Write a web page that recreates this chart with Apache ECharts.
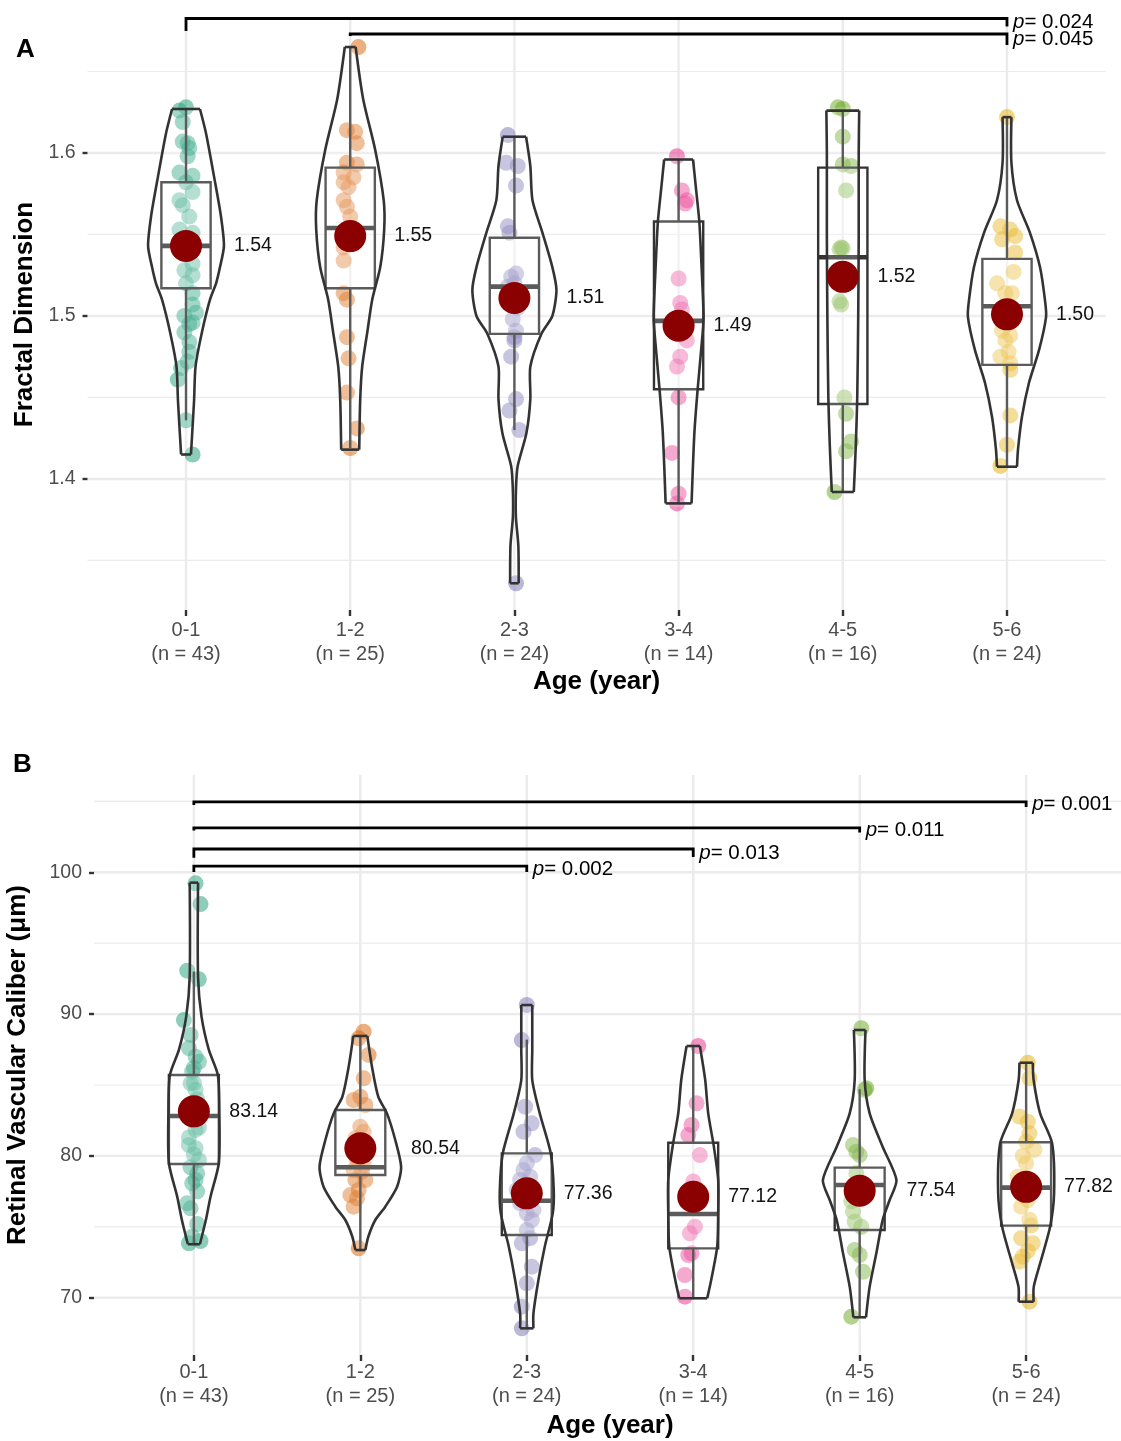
<!DOCTYPE html>
<html>
<head>
<meta charset="utf-8">
<title>Fractal Dimension / Retinal Vascular Caliber by age</title>
<script src="https://cdn.jsdelivr.net/npm/echarts@6/dist/echarts.min.js"></script>
<style>
	html, body { margin: 0; padding: 0; background: #ffffff; }
	#chart { width: 1121px; height: 1441px; }
</style>
</head>
<body>
<div id="chart"></div>
<script>
// 年龄分组与样本量
const categories = ["0-1", "1-2", "2-3", "3-4", "4-5", "5-6"];
const groupCounts = [43, 25, 24, 14, 16, 24];

// 坐标轴刻度
const tickValuesA = [1.4, 1.5, 1.6];
const minorValuesA = [1.35, 1.45, 1.55, 1.65];
const tickValuesB = [70, 80, 90, 100];
const minorValuesB = [75, 85, 95, 105];

// 均值（图中红点与标签）
const meansA = [1.543, 1.549, 1.511, 1.494, 1.524, 1.501];
const meansB = [83.14, 80.54, 77.36, 77.12, 77.54, 77.82];

// 箱线图：[下须, Q1, 中位数, Q3, 上须]
const boxA = [
	[1.436, 1.517, 1.543, 1.582, 1.627],
	[1.419, 1.517, 1.554, 1.591, 1.665],
	[1.430, 1.489, 1.518, 1.548, 1.610],
	[1.385, 1.455, 1.497, 1.558, 1.596],
	[1.392, 1.446, 1.536, 1.591, 1.626],
	[1.408, 1.470, 1.506, 1.535, 1.622],
];
const boxB = [
	[73.8, 79.43, 82.81, 85.71, 93.0],
	[73.4, 78.65, 79.2, 83.24, 88.5],
	[67.8, 74.42, 76.84, 80.18, 88.2],
	[70.0, 73.48, 75.9, 80.93, 87.75],
	[68.6, 74.77, 77.95, 79.17, 84.7],
	[69.7, 75.08, 77.76, 80.96, 86.57],
];

// 小提琴密度轮廓：[数值, 半宽(分组单位)]
const violinA = [
	[[1.415, 0.030], [1.448, 0.049], [1.469, 0.058], [1.490, 0.097], [1.510, 0.146], [1.520, 0.183], [1.530, 0.207], [1.543, 0.231], [1.561, 0.213], [1.582, 0.177], [1.612, 0.122], [1.627, 0.085]],
	[[1.418, 0.055], [1.449, 0.061], [1.469, 0.073], [1.490, 0.104], [1.510, 0.134], [1.530, 0.183], [1.553, 0.207], [1.571, 0.204], [1.602, 0.152], [1.633, 0.079], [1.665, 0.033]],
	[[1.336, 0.026], [1.359, 0.024], [1.377, 0.009], [1.395, 0.010], [1.408, 0.020], [1.428, 0.073], [1.449, 0.097], [1.469, 0.097], [1.489, 0.164], [1.500, 0.231], [1.516, 0.256], [1.530, 0.231], [1.551, 0.171], [1.571, 0.110], [1.592, 0.097], [1.610, 0.071]],
	[[1.385, 0.079], [1.428, 0.096], [1.455, 0.116], [1.489, 0.146], [1.500, 0.152], [1.530, 0.140], [1.558, 0.126], [1.579, 0.105], [1.596, 0.088]],
	[[1.392, 0.067], [1.420, 0.079], [1.450, 0.088], [1.500, 0.094], [1.550, 0.097], [1.600, 0.097], [1.626, 0.100]],
	[[1.4075, 0.061], [1.418, 0.067], [1.438, 0.091], [1.459, 0.134], [1.479, 0.195], [1.4995, 0.238], [1.510, 0.231], [1.530, 0.201], [1.551, 0.140], [1.571, 0.061], [1.594, 0.027], [1.622, 0.027]],
];
const violinB = [
	[[73.77, 0.036], [75.48, 0.072], [77.12, 0.100], [79.5, 0.150], [83.0, 0.153], [85.7, 0.144], [87.47, 0.090], [89.82, 0.046], [92.64, 0.025], [99.27, 0.025]],
	[[73.36, 0.030], [74.3, 0.048], [75.48, 0.090], [76.42, 0.150], [77.83, 0.221], [79.24, 0.245], [81.12, 0.210], [83.0, 0.160], [84.17, 0.108], [86.29, 0.070], [88.46, 0.042]],
	[[67.84, 0.040], [68.9, 0.040], [71.25, 0.070], [73.6, 0.108], [75.95, 0.156], [77.6, 0.162], [80.18, 0.144], [83.0, 0.078], [85.35, 0.033], [87.47, 0.033], [90.64, 0.033]],
	[[69.96, 0.084], [71.25, 0.108], [73.6, 0.144], [75.95, 0.150], [78.3, 0.150], [80.65, 0.124], [83.0, 0.090], [85.35, 0.072], [87.75, 0.040]],
	[[68.62, 0.038], [70.78, 0.060], [73.13, 0.100], [75.48, 0.138], [76.89, 0.180], [78.3, 0.221], [80.65, 0.138], [83.0, 0.060], [85.35, 0.030], [88.88, 0.035]],
	[[69.72, 0.045], [70.78, 0.046], [72.42, 0.084], [75.0, 0.144], [77.36, 0.168], [80.89, 0.156], [83.0, 0.084], [85.35, 0.045], [86.57, 0.040]],
];

// 抖动散点：[横向抖动(分组单位), 数值]
const pointsA = [
	[[0.00, 1.628], [-0.04, 1.626], [-0.02, 1.619], [-0.02, 1.607], [0.01, 1.606], [0.02, 1.603], [0.01, 1.598], [-0.04, 1.588], [0.04, 1.586], [0.00, 1.582], [0.04, 1.576], [-0.04, 1.571], [-0.02, 1.568], [0.02, 1.561], [-0.04, 1.553], [0.04, 1.551], [0.01, 1.546], [-0.02, 1.539], [0.04, 1.532], [-0.01, 1.528], [0.04, 1.525], [0.00, 1.520], [0.04, 1.514], [0.04, 1.507], [0.06, 1.502], [-0.01, 1.500], [0.02, 1.495], [0.04, 1.496], [-0.01, 1.490], [0.02, 1.484], [0.02, 1.478], [0.01, 1.472], [-0.03, 1.468], [-0.05, 1.461], [0.00, 1.436], [0.04, 1.415]],
	[[0.05, 1.665], [-0.02, 1.614], [0.03, 1.613], [0.04, 1.606], [-0.02, 1.594], [0.04, 1.593], [-0.04, 1.588], [0.02, 1.585], [-0.04, 1.582], [-0.01, 1.579], [-0.04, 1.571], [-0.02, 1.567], [0.00, 1.561], [0.00, 1.553], [-0.04, 1.542], [-0.04, 1.534], [-0.04, 1.514], [-0.02, 1.510], [-0.02, 1.487], [-0.01, 1.474], [-0.02, 1.453], [0.04, 1.431], [0.00, 1.419]],
	[[-0.04, 1.611], [-0.05, 1.594], [0.02, 1.592], [0.01, 1.580], [-0.04, 1.555], [-0.03, 1.551], [0.01, 1.526], [-0.02, 1.524], [0.00, 1.520], [-0.04, 1.518], [0.02, 1.505], [-0.01, 1.498], [0.01, 1.491], [0.00, 1.487], [0.00, 1.485], [-0.02, 1.475], [0.01, 1.449], [-0.03, 1.442], [0.03, 1.430], [0.01, 1.336]],
	[[-0.01, 1.598], [0.02, 1.577], [0.05, 1.571], [0.04, 1.569], [0.00, 1.523], [0.01, 1.508], [0.02, 1.504], [0.05, 1.485], [0.01, 1.475], [-0.01, 1.469], [0.00, 1.450], [-0.04, 1.416], [0.00, 1.391], [-0.01, 1.385]],
	[[-0.03, 1.628], [0.00, 1.627], [0.00, 1.610], [0.00, 1.593], [0.05, 1.592], [0.02, 1.577], [-0.02, 1.541], [-0.01, 1.542], [0.00, 1.5415], [-0.02, 1.509], [-0.01, 1.507], [0.01, 1.450], [0.02, 1.440], [0.05, 1.423], [0.02, 1.417], [-0.05, 1.392]],
	[[0.00, 1.622], [-0.04, 1.555], [0.02, 1.553], [0.05, 1.549], [-0.03, 1.547], [0.05, 1.539], [0.04, 1.527], [-0.06, 1.520], [-0.01, 1.514], [0.03, 1.514], [-0.02, 1.500], [-0.03, 1.491], [0.02, 1.488], [-0.01, 1.485], [0.01, 1.478], [-0.04, 1.475], [0.02, 1.471], [0.02, 1.467], [0.02, 1.439], [0.00, 1.421], [-0.04, 1.408]],
];
const pointsB = [
	[[0.01, 99.22], [0.04, 97.76], [-0.04, 93.06], [0.03, 92.45], [-0.06, 89.58], [-0.02, 88.53], [-0.03, 87.6], [0.01, 87.0], [0.03, 86.64], [0.00, 86.2], [-0.01, 85.94], [0.00, 85.14], [-0.02, 85.12], [0.01, 84.65], [0.02, 84.0], [0.01, 83.71], [-0.02, 83.3], [-0.01, 82.53], [0.03, 82.0], [0.01, 81.83], [-0.03, 81.3], [-0.03, 80.77], [0.01, 80.54], [0.00, 80.1], [0.03, 79.71], [-0.02, 79.2], [0.02, 78.77], [0.01, 78.30], [-0.01, 78.07], [0.02, 77.5], [-0.04, 76.66], [-0.02, 76.30], [0.02, 75.2], [-0.01, 74.30], [0.04, 74.0], [-0.03, 73.84]],
	[[0.02, 88.76], [-0.01, 88.29], [0.05, 87.12], [0.02, 85.47], [0.00, 84.17], [-0.04, 83.94], [0.03, 83.59], [0.00, 82.06], [0.02, 81.7], [-0.03, 81.24], [0.00, 80.8], [0.00, 80.30], [-0.02, 79.71], [0.02, 79.36], [-0.04, 79.00], [0.01, 78.89], [-0.03, 78.30], [0.03, 78.30], [-0.01, 77.6], [-0.06, 77.24], [-0.02, 77.01], [-0.04, 76.42], [-0.01, 73.48]],
	[[0.00, 90.64], [-0.03, 88.17], [-0.01, 83.47], [0.03, 82.30], [-0.02, 81.71], [0.05, 80.06], [0.00, 79.48], [-0.02, 79.0], [0.02, 78.53], [-0.04, 78.30], [-0.06, 77.60], [0.01, 77.0], [-0.04, 76.66], [0.04, 76.2], [0.00, 75.95], [0.03, 75.48], [0.00, 74.77], [0.02, 74.2], [-0.03, 73.84], [0.03, 72.19], [0.00, 71.02], [-0.03, 69.37], [-0.03, 67.84]],
	[[0.03, 87.75], [0.02, 83.71], [-0.01, 82.18], [-0.03, 81.47], [0.04, 80.06], [0.00, 78.2], [0.02, 77.5], [0.01, 76.50], [0.01, 75.01], [-0.02, 74.54], [-0.01, 73.13], [-0.03, 73.01], [-0.05, 71.60], [-0.05, 70.07]],
	[[0.01, 89.0], [0.03, 84.65], [0.04, 84.77], [-0.04, 80.77], [-0.02, 80.3], [0.00, 80.06], [-0.02, 78.77], [-0.01, 77.6], [-0.05, 76.80], [-0.04, 76.07], [-0.03, 75.36], [0.01, 75.0], [-0.03, 73.37], [0.00, 73.01], [0.02, 71.83], [-0.05, 68.66]],
	[[0.01, 86.57], [0.02, 85.47], [-0.04, 82.77], [0.01, 82.41], [0.02, 81.59], [0.00, 81.0], [0.05, 80.42], [-0.02, 80.0], [0.00, 79.48], [-0.05, 78.53], [0.03, 78.0], [-0.01, 77.2], [0.01, 76.89], [-0.03, 76.42], [0.02, 75.5], [0.03, 75.1], [-0.03, 74.2], [0.04, 73.84], [0.01, 73.3], [-0.02, 72.89], [-0.04, 72.54], [0.02, 69.72]],
];

// 显著性标注：[起始组, 结束组, 横线高度, 左端下沿, 右端下沿, p值]
const bracketsA = [
	[0, 5, 1.6825, 1.6748, 1.6776, "0.024"],
	[1, 5, 1.6730, 1.6718, 1.6663, "0.045"],
];
const bracketsB = [
	[0, 5, 104.96, 104.75, 104.6, "0.001"],
	[0, 4, 103.13, 102.95, 102.8, "0.011"],
	[0, 3, 101.64, 101.02, 101.08, "0.013"],
	[0, 2, 100.44, 100.02, 100.02, "0.002"],
];

// 样式常量
const groupColors = ["#1B9E77", "#D95F02", "#7570B3", "#E7298A", "#66A61E", "#E6AB02"];
const FONT = "'Liberation Sans', Arial, sans-serif";
const BOX_HALF = 0.15; // 箱体半宽（分组单位）
const INK = "#333333";

function lineShape(a, b) {
	return { x1: a[0], y1: a[1], x2: b[0], y2: b[1] };
}

// 背景网格线（主、次网格 + 分组竖线）
function renderGrid(major, minor) {
	return function (params, api) {
		const cs = params.coordSys;
		const children = [];
		const hLine = (v, w) => {
			const y = api.coord([0, v])[1];
			children.push({ type: "line", shape: { x1: cs.x, y1: y, x2: cs.x + cs.width, y2: y }, style: { stroke: "#EBEBEB", lineWidth: w, fill: null } });
		};
		minor.forEach((v) => hLine(v, 1.2));
		major.forEach((v) => hLine(v, 2.4));
		categories.forEach((c, i) => {
			const x = api.coord([i, major[0]])[0];
			children.push({ type: "line", shape: { x1: x, y1: cs.y, x2: x, y2: cs.y + cs.height }, style: { stroke: "#EBEBEB", lineWidth: 2.4, fill: null } });
		});
		return { type: "group", children: children };
	};
}

// 箱线图 + 小提琴
function renderBoxViolin(boxes, violins) {
	return function (params, api) {
		const i = params.dataIndex;
		const [lo, q1, med, q3, hi] = boxes[i];
		const pt = (dx, v) => api.coord([i + dx, v]);
		const ink = (w) => ({ stroke: INK, lineWidth: w, fill: null, lineJoin: "round" });
		const children = [];

		// 1. 须线
		children.push({ type: "line", shape: lineShape(pt(0, hi), pt(0, q3)), style: ink(2.4) });
		children.push({ type: "line", shape: lineShape(pt(0, q1), pt(0, lo)), style: ink(2.4) });

		// 2. 箱体
		const tl = pt(-BOX_HALF, q3);
		const br = pt(BOX_HALF, q1);
		children.push({
			type: "rect",
			shape: { x: tl[0], y: tl[1], width: br[0] - tl[0], height: br[1] - tl[1] },
			style: { stroke: INK, lineWidth: 2.4, fill: "rgba(255,255,255,0.2)" },
		});

		// 3. 中位数
		children.push({ type: "line", shape: lineShape(pt(-BOX_HALF, med), pt(BOX_HALF, med)), style: ink(4.6) });

		// 4. 小提琴轮廓
		const prof = violins[i];
		const right = prof.map((d) => pt(d[1], d[0]));
		const left = prof.map((d) => pt(-d[1], d[0]));
		const last = prof.length - 1;
		children.push({
			type: "polygon",
			shape: { points: right.concat(left.slice().reverse()), smooth: 0.25 },
			style: { fill: "rgba(255,255,255,0.2)", stroke: null },
		});
		children.push({ type: "polyline", shape: { points: right, smooth: 0.25 }, style: ink(2.6) });
		children.push({ type: "polyline", shape: { points: left, smooth: 0.25 }, style: ink(2.6) });
		children.push({ type: "line", shape: lineShape(left[0], right[0]), style: ink(2.6) });
		children.push({ type: "line", shape: lineShape(left[last], right[last]), style: ink(2.6) });

		return { type: "group", children: children };
	};
}

// 均值标签（放在小提琴最宽处右侧）
function renderMeanLabel(means, violins) {
	return function (params, api) {
		const i = params.dataIndex;
		const reach = Math.max(BOX_HALF, ...violins[i].map((d) => d[1]));
		const p = api.coord([i + reach, means[i]]);
		return {
			type: "text",
			x: p[0] + 10,
			y: p[1],
			style: { text: means[i].toFixed(2), fontSize: 19.5, fontFamily: FONT, fill: "#111111", align: "left", verticalAlign: "middle" },
		};
	};
}

// 显著性括号与 p 值
function renderBrackets(brackets) {
	return function (params, api) {
		const [from, to, y, tipL, tipR, p] = brackets[params.dataIndex];
		const pts = [api.coord([from, tipL]), api.coord([from, y]), api.coord([to, y]), api.coord([to, tipR])];
		const lab = api.coord([to, (y + tipR) / 2]);
		return {
			type: "group",
			children: [
				{ type: "polyline", shape: { points: pts }, style: { stroke: "#000000", lineWidth: 2.8, fill: null } },
				{
					type: "text",
					x: lab[0] + 6,
					y: lab[1],
					style: {
						text: "{i|p}= " + p,
						rich: { i: { fontStyle: "italic", fontSize: 20.5, fontFamily: FONT, fill: "#000000" } },
						fontSize: 20.5,
						fontFamily: FONT,
						fill: "#000000",
						align: "left",
						verticalAlign: "middle",
					},
				},
			],
		};
	};
}

// 单个面板的系列
function panelSeries(k, cfg) {
	const axes = { xAxisIndex: k, yAxisIndex: k, silent: true };
	return [
		{ ...axes, type: "custom", z: 0, renderItem: renderGrid(cfg.ticks, cfg.minor), data: [[0, cfg.ticks[0]]] },
		{
			...axes,
			type: "scatter",
			z: 2,
			symbolSize: 16,
			data: cfg.points.flatMap((grp, i) =>
				grp.map((d) => ({ value: [i + d[0], d[1]], itemStyle: { color: groupColors[i], opacity: 0.5 } })),
			),
		},
		{ ...axes, type: "custom", z: 3, renderItem: renderBoxViolin(cfg.box, cfg.violin), data: cfg.box.map((b, i) => [i, b[2]]) },
		{ ...axes, type: "scatter", z: 4, symbolSize: 32, itemStyle: { color: "#8B0000", opacity: 1 }, data: cfg.means.map((m, i) => [i, m]) },
		{ ...axes, type: "custom", z: 5, renderItem: renderMeanLabel(cfg.means, cfg.violin), data: cfg.means.map((m, i) => [i, m]) },
		{ ...axes, type: "custom", z: 5, clip: false, renderItem: renderBrackets(cfg.brackets), data: cfg.brackets.map((b) => [b[0], b[2]]) },
	];
}

function xAxisFor(k, margin, nameGap) {
	const idx = categories.map((c, i) => i);
	return {
		type: "value",
		gridIndex: k,
		min: -0.6,
		max: 5.6,
		axisLine: { show: false, onZero: false },
		splitLine: { show: false },
		axisTick: { show: true, customValues: idx, length: 6, lineStyle: { color: INK, width: 2.4 } },
		axisLabel: {
			customValues: idx,
			formatter: (v) => categories[Math.round(v)] + "\n(n = " + groupCounts[Math.round(v)] + ")",
			color: "#4D4D4D",
			fontSize: 20,
			lineHeight: 24,
			margin: margin,
			fontFamily: FONT,
		},
		name: "Age (year)",
		nameLocation: "middle",
		nameGap: nameGap,
		nameTextStyle: { fontWeight: "bold", fontSize: 26, color: "#000000", fontFamily: FONT },
	};
}

function yAxisFor(k, range, ticks, name, nameGap, fmt) {
	return {
		type: "value",
		gridIndex: k,
		min: range[0],
		max: range[1],
		axisLine: { show: false, onZero: false },
		splitLine: { show: false },
		axisTick: { show: true, customValues: ticks, length: 5, lineStyle: { color: INK, width: 2.4 } },
		axisLabel: { customValues: ticks, formatter: fmt, color: "#4D4D4D", fontSize: 19.5, margin: 12, fontFamily: FONT },
		name: name,
		nameLocation: "middle",
		nameGap: nameGap,
		nameTextStyle: { fontWeight: "bold", fontSize: 26, color: "#000000", fontFamily: FONT },
	};
}

const chart = echarts.init(document.getElementById("chart"), null, { renderer: "canvas" });

const option = {
	animation: false,
	backgroundColor: "#ffffff",
	textStyle: { fontFamily: FONT },
	grid: [
		{ left: 87.5, top: 19, width: 1018, height: 591, outerBoundsMode: "none" },
		{ left: 94, top: 775, width: 1032, height: 580, outerBoundsMode: "none" },
	],
	xAxis: [xAxisFor(0, 8, 59), xAxisFor(1, 5, 58)],
	yAxis: [
		yAxisFor(0, [1.3196, 1.6822], tickValuesA, "Fractal Dimension", 45, (v) => v.toFixed(1)),
		yAxisFor(1, [65.96, 106.86], tickValuesB, "Retinal Vascular Caliber (\u03bcm)", 63, (v) => String(Math.round(v))),
	],
	graphic: [
		{ type: "text", left: 16, top: 37, style: { text: "A", font: "bold 26px " + FONT, fill: "#000000" } },
		{ type: "text", left: 13, top: 752, style: { text: "B", font: "bold 26px " + FONT, fill: "#000000" } },
	],
	series: [
		...panelSeries(0, { ticks: tickValuesA, minor: minorValuesA, points: pointsA, box: boxA, violin: violinA, means: meansA, brackets: bracketsA }),
		...panelSeries(1, { ticks: tickValuesB, minor: minorValuesB, points: pointsB, box: boxB, violin: violinB, means: meansB, brackets: bracketsB }),
	],
};

chart.setOption(option);
</script>
</body>
</html>
